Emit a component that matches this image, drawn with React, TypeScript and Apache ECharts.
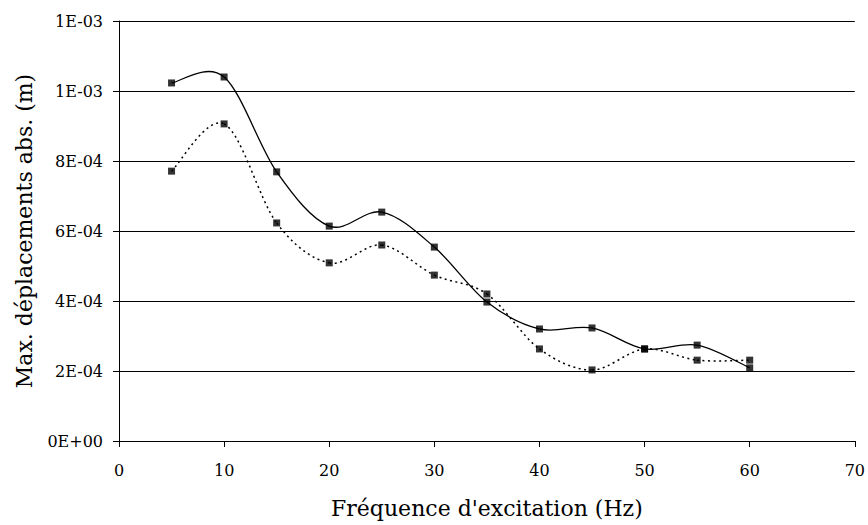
import React, { useEffect, useRef } from "react";
import * as echarts from "echarts";

const freq = [5, 10, 15, 20, 25, 30, 35, 40, 45, 50, 55, 60];
const solidVals = [1.023e-3, 1.04e-3, 0.769e-3, 0.614e-3, 0.654e-3, 0.554e-3, 0.397e-3, 0.32e-3, 0.323e-3, 0.263e-3, 0.274e-3, 0.209e-3];
const dottedVals = [0.771e-3, 0.906e-3, 0.623e-3, 0.509e-3, 0.56e-3, 0.474e-3, 0.42e-3, 0.263e-3, 0.203e-3, 0.263e-3, 0.231e-3, 0.231e-3];

const xName = "Fréquence d'excitation (Hz)";
const yName = "Max. déplacements abs. (m)";

function fmtExp(v: number): string {
  if (v === 0) return "0E+00";
  const s = v.toExponential(0);
  const [m, e] = s.split("e");
  const sign = e[0] === "-" ? "-" : "+";
  const d = e.replace(/[+-]/, "").padStart(2, "0");
  return m + "E" + sign + d;
}

function makeRenderItem(vals: number[], dash: number[] | null, width: number) {
  return (params: any, api: any) => {
    const i = params.dataIndex;
    const n = freq.length;
    if (i >= n - 1) return null;
    const c = (j: number) => {
      const k = Math.max(0, Math.min(n - 1, j));
      return api.coord([freq[k], vals[k]]);
    };
    const p0 = c(i - 1);
    const p1 = c(i);
    const p2 = c(i + 1);
    const p3 = c(i + 2);
    const t = 1 / 6;
    const style: any = { stroke: "#000", lineWidth: width, fill: "none" };
    if (dash) style.lineDash = dash;
    return {
      type: "bezierCurve",
      shape: {
        x1: p1[0],
        y1: p1[1],
        cpx1: p1[0] + (p2[0] - p0[0]) * t,
        cpy1: p1[1] + (p2[1] - p0[1]) * t,
        cpx2: p2[0] - (p3[0] - p1[0]) * t,
        cpy2: p2[1] - (p3[1] - p1[1]) * t,
        x2: p2[0],
        y2: p2[1],
      },
      style,
    };
  };
}

export default function App() {
  const ref = useRef<HTMLDivElement>(null);
  useEffect(() => {
    if (!ref.current) return;
    const chart = echarts.init(ref.current, undefined, { renderer: "svg" });
    const font = "DejaVu Serif";
    chart.setOption({
      animation: false,
      backgroundColor: "#fff",
      textStyle: { fontFamily: font },
      grid: { left: 119, right: 13, top: 21, bottom: 84, containLabel: false },
      xAxis: {
        type: "value",
        min: 0,
        max: 70,
        interval: 10,
        name: xName,
        nameLocation: "middle",
        nameGap: 56,
        nameTextStyle: { fontFamily: font, fontSize: 22, color: "#000" },
        axisLine: { show: true, lineStyle: { color: "#000", width: 1 } },
        axisTick: { show: true, length: 6, inside: false, lineStyle: { color: "#000" } },
        axisLabel: { fontFamily: font, fontSize: 16, color: "#000", margin: 21 },
        splitLine: { show: false },
      },
      yAxis: {
        type: "value",
        min: 0,
        max: 1.2e-3,
        interval: 2e-4,
        name: yName,
        nameLocation: "middle",
        nameGap: 84,
        nameRotate: 90,
        nameTextStyle: { fontFamily: font, fontSize: 22, color: "#000" },
        axisLine: { show: true, lineStyle: { color: "#000", width: 1 } },
        axisTick: { show: true, length: 6, inside: false, lineStyle: { color: "#000" } },
        axisLabel: { fontFamily: font, fontSize: 16, color: "#000", margin: 16, formatter: (v: number) => fmtExp(v) },
        splitLine: { show: true, lineStyle: { color: "#000", width: 1 } },
      },
      series: [
        {
          type: "custom",
          data: freq.map((f, i) => [f, solidVals[i]]),
          renderItem: makeRenderItem(solidVals, null, 1.3),
          z: 2,
        },
        {
          type: "custom",
          data: freq.map((f, i) => [f, dottedVals[i]]),
          renderItem: makeRenderItem(dottedVals, [2, 3.5], 1.5),
          z: 2,
        },
        {
          type: "scatter",
          data: freq.map((f, i) => [f, solidVals[i]]),
          symbol: "rect",
          symbolSize: 7,
          itemStyle: { color: "#000" },
          z: 3,
        },
        {
          type: "scatter",
          data: freq.map((f, i) => [f, dottedVals[i]]),
          symbol: "rect",
          symbolSize: 7,
          itemStyle: { color: "#000" },
          z: 3,
        },
      ],
    });
    return () => chart.dispose();
  }, []);
  return <div ref={ref} style={{ width: 868, height: 525, position: "absolute", left: 0, top: 0 }} />;
}
